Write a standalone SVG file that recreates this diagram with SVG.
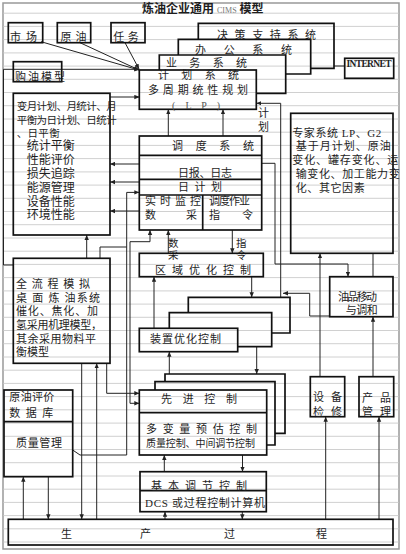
<svg xmlns="http://www.w3.org/2000/svg" width="406" height="554" viewBox="0 0 406 554">
<defs>
<style>
.b{fill:none;stroke:#111;stroke-width:1.7}
.c{fill:none;stroke:#222;stroke-width:1}
.ca{fill:none;stroke:#222;stroke-width:1;marker-end:url(#a)}
.t{font-family:"Liberation Serif","Noto Sans CJK SC",serif;font-size:11px;fill:#1e1e1e}
.s{font-size:10px}
.m{font-size:12px}
.r{stroke:#c4c4c4;stroke-width:0.8}
</style>
<marker id="a" viewBox="0 0 8 8" refX="8" refY="4" markerWidth="5" markerHeight="5" orient="auto"><path d="M0,0.5L8,4L0,7.5z" fill="#222"/></marker>
</defs>
<rect width="406" height="554" fill="#fff"/>
<g id="rules">
<rect x="3" y="3" width="396" height="546" fill="none" stroke="#999" stroke-width="1.5"/>
<path class="r" d="M3,13.2H399M3,26.4H399M3,39.6H399M3,52.9H399M3,66.1H399M3,79.3H399M3,92.5H399M3,105.7H399M3,119H399M3,132.2H399M3,145.4H399M3,158.6H399M3,171.9H399M3,185.1H399M3,198.3H399M3,211.5H399M3,224.7H399M3,238H399M3,251.2H399M3,264.4H399M3,277.6H399M3,290.9H399M3,304.1H399M3,317.3H399M3,330.5H399M3,343.7H399M3,357H399M3,370.2H399M3,383.4H399M3,396.6H399M3,409.8H399M3,423.1H399M3,436.3H399M3,449.5H399M3,462.7H399M3,476H399M3,489.2H399M3,502.4H399M3,515.6H399M3,528.8H399M3,542H399"/>
</g>
<text x="142" y="13" class="t" style="font-size:12px;font-weight:bold">炼油企业通用<tspan style="font-size:8px;font-weight:normal;fill:#777" dx="3">CIMS</tspan><tspan dx="3">模型</tspan></text>

<g id="connectors">
<path class="ca" d="M41,41.7L139,70"/>
<path class="ca" d="M80,42.7L139,70"/>
<path class="ca" d="M125,42.7L139,69"/>
<path class="ca" d="M13.3,265H3.5V69.3H139.3"/>
<path class="ca" d="M110,97H139.3"/>
<path class="c" d="M334,66H344.7"/>
<path class="ca" d="M168.3,136V109.3"/>
<path class="ca" d="M223,136V109.3"/>
<path class="ca" d="M329.7,316H309.7V293.3H283"/>
<path class="ca" d="M280.7,297.3V103.3H256.3"/>
<path class="ca" d="M139.3,164H110"/>
<path class="ca" d="M139.3,182H110"/>
<path class="ca" d="M139.3,211H110"/>
<path class="ca" d="M261.7,163.3H275V264H348V276.7"/>
<path class="c" d="M373,253.3V276.7"/>
<path class="ca" d="M320,376.7V253.3"/>
<path class="ca" d="M373,376.7V316.7"/>
<path class="ca" d="M325.7,519.3V416.7"/>
<path class="ca" d="M379,519.3V416.7"/>
<path class="ca" d="M232.3,230V253.3"/>
<path class="ca" d="M168.3,253.3V230"/>
<path class="ca" d="M130,241.7H150V230"/>
<path class="ca" d="M251.7,276.7V297.3"/>
<path class="ca" d="M154,328.3V276.7"/>
<path class="ca" d="M256.7,346.7V374"/>
<path class="ca" d="M169.3,374V351.7"/>
<path class="ca" d="M164.3,471.7V455"/>
<path class="ca" d="M242.5,455V471.7"/>
<path class="ca" d="M165,519.3V511.7"/>
<path class="ca" d="M242.3,511.7V519.3"/>
<path class="ca" d="M23.3,519.3V476.7"/>
<path class="ca" d="M48.3,476.7V519.3"/>
<path class="ca" d="M81.7,363.3V519.3"/>
<path class="ca" d="M96.7,519.3V363.3"/>
<path class="ca" d="M106.7,363.3V393.3H139.3"/>
<path class="ca" d="M130,241.7V403.3H139.3"/>
<path class="ca" d="M72.7,450L80,455H126.7V192.4H139.3"/>
<path class="c" d="M100,258.3V247H126.7"/>
<path class="ca" d="M86.7,258.3V235"/>
</g>

<g id="shichang"><rect class="b" x="8.3" y="22.7" width="34.4" height="20"/><text class="t" x="10" y="41" textLength="27">市 场</text></g>
<g id="yuanyou"><rect class="b" x="57.3" y="22.7" width="33.4" height="20"/><text class="t" x="60.5" y="41" textLength="26">原 油</text></g>
<g id="renwu"><rect class="b" x="111" y="22.7" width="34" height="20"/><text class="t" x="113.3" y="41" textLength="25.5">任 务</text></g>
<g id="gouyou"><rect class="b" x="13.3" y="61.7" width="48.4" height="20"/><text class="t" x="15" y="81" textLength="50">购 油 模 型</text></g>

<g id="juece"><path class="b" d="M198.3,39.3V23.3H334V68.3H310.7"/><text class="t" x="217" y="39" textLength="99">决 策 支 持 系 统</text></g>
<g id="bangong"><path class="b" d="M178.3,55V39.3H310.7V74H285.7"/><text class="t" x="195" y="54" textLength="97">办 公 系 统</text></g>
<g id="yewu"><path class="b" d="M159.3,70V55H285.7V93.3H256.3"/><text class="t" x="166" y="66.5" textLength="81">业 务 系 统</text></g>
<g id="jihua"><rect class="b" x="139.3" y="70" width="117" height="39.3"/><text class="t"><tspan x="158" y="79" textLength="81">计 划 系 统</tspan><tspan x="148" y="94" textLength="100">多 周 期 统 性 规 划</tspan><tspan class="s" x="172" y="109" textLength="48" style="fill:#555">( L P )</tspan></text></g>
<g id="internet"><rect class="b" x="344.7" y="58.3" width="49" height="20"/><text x="346.5" y="66.8" textLength="45" style="font-family:'Liberation Serif',serif;font-size:9.5px;font-weight:bold;fill:#222">INTERNET</text></g>

<g id="bianyue"><rect class="b" x="13.3" y="93.3" width="96.7" height="141.7"/>
<text class="t"><tspan x="16.7" y="110" textLength="100" style="font-size:10.5px">变月计划、月统计、月</tspan><tspan x="16.7" y="123.5" textLength="100" style="font-size:10.5px">平衡为日计划、日统计</tspan><tspan x="16.7" y="137" textLength="43" style="font-size:10.5px">、日平衡</tspan><tspan class="m" x="26.7" y="150">统计平衡</tspan><tspan class="m" x="26.7" y="164">性能评价</tspan><tspan class="m" x="26.7" y="177.5">损失追踪</tspan><tspan class="m" x="26.7" y="191.5">能源管理</tspan><tspan class="m" x="26.7" y="205.5">设备性能</tspan><tspan class="m" x="26.7" y="219">环境性能</tspan></text></g>

<g id="diaodu"><rect class="b" x="139.3" y="136" width="122.4" height="94"/><path class="b" d="M139.3,155.3H261.7M139.3,179.3H261.7M139.3,195H261.7M202.7,195V230"/>
<text class="t"><tspan x="172" y="149.5" textLength="82">调 度 系 统</tspan><tspan x="178" y="177" textLength="54">日报、日志</tspan><tspan x="178" y="191" textLength="44">日 计 划</tspan><tspan x="145" y="205" textLength="56">实 时 监 控</tspan><tspan x="145" y="219" textLength="52">数 采</tspan><tspan x="209" y="205" textLength="41">调度作业</tspan><tspan x="209" y="219" textLength="44">指 令</tspan></text></g>

<g id="zhuanjia"><rect class="b" x="290.7" y="113.3" width="102.3" height="140"/>
<text class="t"><tspan x="292.3" y="137" textLength="89">专家系统 LP、G2</tspan><tspan x="295.7" y="149.5" textLength="95">基于月计划、原油</tspan><tspan x="292.3" y="164" textLength="106">变化、罐存变化、运</tspan><tspan x="295.7" y="177.5" textLength="104">输变化、加工能力变</tspan><tspan x="295.7" y="191.5" textLength="69">化、其它因素</tspan></text></g>

<text class="t"><tspan x="258" y="117">计</tspan><tspan x="258" y="131">划</tspan></text>
<text class="t" style="font-size:10.5px"><tspan x="168" y="246.5">数</tspan><tspan x="168" y="258.5">采</tspan></text>
<text class="t" style="font-size:10.5px"><tspan x="236" y="246.5">指</tspan><tspan x="236" y="258.5">令</tspan></text>

<g id="quyu"><rect class="b" x="139.3" y="253.3" width="124" height="23.4"/><text class="t" x="155" y="274" textLength="96">区 域 优 化 控 制</text></g>
<g id="youpin"><rect class="b" x="329.7" y="276.7" width="63.3" height="40"/><text class="t"><tspan x="338" y="300.5" textLength="39">油品移动</tspan><tspan x="345.7" y="314" textLength="32">与调和</tspan></text></g>

<g id="quanliucheng"><rect class="b" x="13.3" y="258.3" width="96.7" height="105"/>
<text class="t"><tspan x="16" y="287.5" textLength="74">全 流 程 模 拟</tspan><tspan x="16" y="301.5" textLength="84">桌 面 炼 油系统</tspan><tspan x="16" y="315" textLength="82">催化、焦化、加</tspan><tspan x="16" y="329" textLength="86">氢采用机理模型，</tspan><tspan x="16" y="342.5" textLength="80">其余采用物料平</tspan><tspan x="16" y="356" textLength="33">衡模型</tspan></text></g>

<g id="zhuangzhi"><path class="b" d="M188.3,312.7V297.3H290V333H271.7"/><path class="b" d="M169.3,328.3V312.7H271.7V346.7H237.7"/><rect class="b" x="139.3" y="328.3" width="98.4" height="23.4"/><text class="t" x="150" y="343" textLength="71">装置优化控制</text></g>

<g id="xianjin"><path class="b" d="M165,381.7V374H285V433.3H275"/><path class="b" d="M155,390V381.7H275V445H266.7"/><rect class="b" x="139.3" y="390" width="127.4" height="65"/><path class="b" d="M139.3,412.7H266.7"/>
<text class="t"><tspan x="161" y="402.5" textLength="76">先 进 控 制</tspan><tspan x="146" y="432.5" textLength="111">多 变 量 预 估 控 制</tspan><tspan class="s" x="146" y="446.5" textLength="109">质量控制、中间调节控制</tspan></text></g>

<g id="jiben"><rect class="b" x="140" y="471.7" width="126.3" height="40"/><path class="b" d="M140,490.7H266.3"/>
<text class="t"><tspan x="151" y="490" textLength="96">基 本 调 节 控 制</tspan><tspan x="145" y="506.7" textLength="120">DCS 或过程控制计算机</tspan></text></g>

<g id="yuanyoupingjia"><rect class="b" x="4" y="390" width="68.7" height="86.7"/><path class="b" d="M4,421.7H72.7"/>
<text class="t"><tspan x="9.3" y="400.5" textLength="45">原油评价</tspan><tspan x="9.3" y="416.5" textLength="44">数 据 库</tspan><tspan x="16" y="447" textLength="46">质量管理</tspan></text></g>

<g id="shebei"><rect class="b" x="310.3" y="376.7" width="34.4" height="40"/><text class="t"><tspan x="313" y="401" textLength="29">设 备</tspan><tspan x="313" y="416" textLength="29">检 修</tspan></text></g>
<g id="chanpin"><rect class="b" x="359" y="376.7" width="34.7" height="40"/><text class="t"><tspan x="362" y="402" textLength="29">产 品</tspan><tspan x="362" y="416" textLength="29">管 理</tspan></text></g>

<g id="shengchan"><rect class="b" x="8.3" y="519.3" width="384.7" height="25.7"/>
<text class="t"><tspan x="61" y="537.5">生</tspan><tspan x="140" y="537.5">产</tspan><tspan x="224" y="537.5">过</tspan><tspan x="316" y="537.5">程</tspan></text></g>
</svg>
